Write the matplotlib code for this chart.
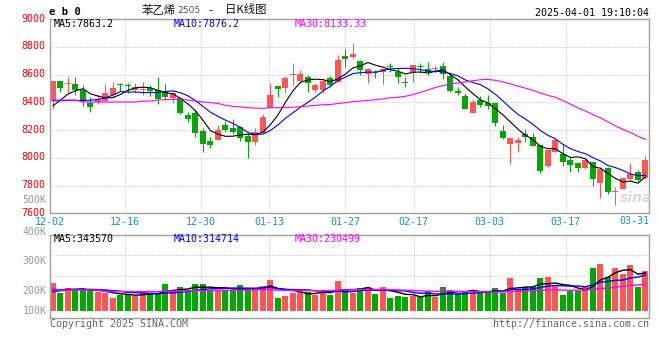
import matplotlib
matplotlib.use('Agg')
import matplotlib.pyplot as plt
import matplotlib.transforms as mtransforms
import numpy as np

# 苯乙烯2505 日K线, 2024-12-02 .. 2025-04-01
date_labels = ['12-02', '12-16', '12-30', '01-13', '01-27', '02-17', '03-03', '03-17']
date_index = [0, 10, 20, 29, 39, 48, 58, 68]
last_label = '03-31'

opens = [8409, 8553, 8531, 8531, 8488, 8397, 8402, 8409, 8452, 8526,
         8524, 8488, 8488, 8505, 8488, 8476, 8428, 8428, 8308, 8325,
         8195, 8123, 8128, 8236, 8212, 8219, 8157, 8116, 8176, 8356,
         8517, 8500, 8596, 8555, 8579, 8488, 8488, 8572, 8548, 8733,
         8723, 8697, 8603, 8610, 8615, 8656, 8615, 8543, 8615, 8656,
         8637, 8639, 8661, 8589, 8483, 8445, 8325, 8416, 8392, 8397,
         8195, 8097, 8109, 8171, 8147, 8092, 7941, 8044, 8025, 7984,
         7960, 7929, 7972, 7821, 7924, 7754, 7773, 7845, 7895, 7852]
highs = [8553, 8553, 8579, 8582, 8524, 8435, 8452, 8531, 8548, 8541,
         8536, 8541, 8543, 8524, 8584, 8531, 8488, 8428, 8332, 8344,
         8212, 8147, 8236, 8265, 8279, 8229, 8176, 8212, 8315, 8541,
         8517, 8589, 8680, 8632, 8596, 8541, 8565, 8589, 8740, 8781,
         8829, 8704, 8644, 8632, 8644, 8685, 8644, 8584, 8668, 8680,
         8690, 8668, 8692, 8613, 8512, 8469, 8421, 8445, 8452, 8397,
         8236, 8145, 8147, 8205, 8181, 8092, 8056, 8140, 8099, 8003,
         7972, 8003, 7972, 7936, 7936, 7792, 7857, 7960, 7912, 8013]
lows = [8351, 8476, 8464, 8452, 8375, 8332, 8387, 8409, 8440, 8483,
        8469, 8469, 8452, 8447, 8387, 8416, 8392, 8315, 8260, 8152,
        8044, 8073, 8128, 8188, 8169, 8123, 8001, 8092, 8176, 8356,
        8440, 8464, 8524, 8536, 8476, 8476, 8469, 8512, 8548, 8651,
        8709, 8596, 8536, 8572, 8531, 8620, 8536, 8512, 8548, 8613,
        8596, 8608, 8565, 8476, 8452, 8351, 8325, 8368, 8351, 8229,
        8135, 7955, 8044, 8116, 8085, 7888, 7931, 8032, 7939, 7900,
        7900, 7917, 7797, 7710, 7739, 7660, 7773, 7840, 7835, 7845]
closes = [8553, 8505, 8531, 8488, 8411, 8368, 8426, 8464, 8500, 8524,
          8519, 8512, 8488, 8483, 8423, 8440, 8469, 8325, 8279, 8181,
          8099, 8092, 8200, 8200, 8188, 8145, 8116, 8186, 8296, 8452,
          8495, 8572, 8598, 8603, 8536, 8524, 8555, 8524, 8704, 8709,
          8747, 8632, 8639, 8608, 8639, 8652, 8579, 8541, 8668, 8651,
          8615, 8641, 8601, 8483, 8469, 8351, 8404, 8380, 8373, 8248,
          8140, 8145, 8128, 8152, 8085, 7905, 8056, 8128, 7972, 7950,
          7929, 7984, 7845, 7917, 7756, 7756, 7852, 7881, 7840, 7984]
volumes_k = [246, 162, 204, 186, 186, 177, 171, 156, 117, 141,
             150, 132, 177, 156, 156, 237, 186, 213, 186, 237,
             237, 186, 186, 186, 186, 228, 186, 204, 222, 276,
             117, 132, 162, 171, 171, 141, 186, 141, 270, 198,
             156, 204, 216, 150, 213, 117, 132, 126, 132, 120,
             177, 120, 213, 186, 162, 177, 177, 162, 177, 204,
             162, 297, 186, 213, 213, 297, 303, 222, 141, 177,
             177, 222, 384, 420, 303, 384, 330, 411, 216, 360]

# moving-average values before enough history is on the chart
ma5_head = [8375, 8416, 8459, 8483]
ma10_head = [8411, 8411, 8413, 8413, 8413, 8415, 8420, 8433, 8452]
ma30_head = [8416, 8416, 8416, 8416, 8402, 8402, 8402, 8402, 8402, 8402,
             8402, 8402, 8409, 8409, 8416, 8419, 8421, 8421, 8416, 8409,
             8402, 8397, 8392, 8378, 8370, 8366, 8361, 8358, 8356]
vol_ma5_head = [192, 186, 192, 192]
vol_ma10_head = [171, 180, 189, 192, 192, 192, 190, 186, 180]
vol_ma30_head = [186, 186, 186, 186, 186, 186, 186, 172, 172, 172,
                 172, 172, 172, 172, 172, 175, 176, 177, 178, 179,
                 180, 181, 182, 183, 184, 185, 186, 187, 188]

RED = '#ff5555'
GREEN = '#00a800'
GRID = '#b4b4b4'
FRAME = '#a0a0a0'
W, H = 660, 360


def sma(values, n, head):
    out = list(head)
    for i in range(n - 1, len(values)):
        out.append(sum(values[i - n + 1:i + 1]) / n)
    return np.array(out, dtype=float)


def box(left, top, right, bottom):
    return [left / W, 1 - bottom / H, (right - left) / W, (bottom - top) / H]


plt.rcParams['font.family'] = ['DejaVu Sans Mono', 'Noto Sans CJK SC']
plt.rcParams['font.size'] = 7.2

fig = plt.figure(figsize=(W / 100, H / 100), dpi=100)


def px_text(x, y, s, **kw):
    kw.setdefault('va', 'center')
    fig.text(x / W, 1 - y / H, s, **kw)


x = np.arange(len(closes))
o = np.array(opens, dtype=float)
c = np.array(closes, dtype=float)
colors = np.where(c >= o, RED, GREEN)
vol = np.array(volumes_k, dtype=float) * 1000

# gridline positions drift slightly from the candle slots in the original
tick_pos = [max((7.6 * i - 4) / 7.5, -0.4) for i in date_index]

# ---- price panel
ax = fig.add_axes(box(50, 19, 649, 213.3))
ax.vlines(x, lows, highs, colors=colors, linewidth=0.75)
body = np.maximum(np.abs(c - o), 7)
ax.bar(x, body, bottom=np.minimum(o, c), width=0.8, color=colors, linewidth=0)
ax.plot(x, sma(closes, 5, ma5_head), color='black', lw=0.8)
ax.plot(x, sma(closes, 10, ma10_head), color='#0000ff', lw=0.8)
ax.plot(x, sma(closes, 30, ma30_head), color='#ff00ff', lw=0.8)
ax.set_xlim(-0.4, 79.47)
ax.set_ylim(7600, 9000)
ax.set_yticks(range(7600, 9001, 200))
ax.tick_params(axis='y', length=0, pad=3, labelcolor='#ff0000', labelsize=7.2)
lift = mtransforms.ScaledTranslation(0, 1.5 / 100, fig.dpi_scale_trans)
for lab in ax.get_yticklabels():
    lab.set_transform(lab.get_transform() + lift)
ax.set_xticks(tick_pos)
ax.set_xticklabels(date_labels)
ax.tick_params(axis='x', length=0, pad=2.4, labelcolor='#1a8ad6', labelsize=7.2)
ax.grid(True, color=GRID, linestyle=(0, (1, 2)), linewidth=0.72)
ax.set_axisbelow(True)
for s in ax.spines.values():
    s.set_color(FRAME)
    s.set_linewidth(1.0)

# ---- volume panel
axv = fig.add_axes(box(50, 234.5, 649, 317.7))
axv.bar(x, vol, width=0.8, color=colors, linewidth=0)
axv.plot(x, sma(vol, 5, np.array(vol_ma5_head) * 1000), color='black', lw=1.0)
axv.plot(x, sma(vol, 10, np.array(vol_ma10_head) * 1000), color='#0000ff', lw=1.0)
axv.plot(x, sma(vol, 30, np.array(vol_ma30_head) * 1000), color='#ff00ff', lw=1.0)
axv.set_xlim(-0.4, 79.47)
vlo, vhi = -63000, 686000
axv.set_ylim(vlo, vhi)
axv.set_xticks(tick_pos)
axv.set_xticklabels([])
axv.set_yticks([vlo + f * (vhi - vlo) for f in (0.25, 0.5, 0.75)])
axv.set_yticklabels([])
axv.tick_params(length=0)
axv.grid(True, color=GRID, linestyle=(0, (1, 2)), linewidth=0.72)
axv.set_axisbelow(True)
for s in axv.spines.values():
    s.set_color(FRAME)
    s.set_linewidth(1.0)

# ---- texts
px_text(49, 12, 'e b 0', fontweight='bold', fontsize=7.6, color='black')
px_text(142, 10, '苯乙烯', family='Noto Sans CJK SC', fontsize=8.2, color='#111')
px_text(177, 10.5, '2505', family='DejaVu Sans', fontsize=6.6, color='#555')
px_text(210.5, 10, '-', family='DejaVu Sans', fontsize=8, color='#111', ha='center')
px_text(225, 10, '日K线图', family='Noto Sans CJK SC', fontsize=8.2, color='#111')
px_text(649, 12.5, '2025-04-01 19:10:04', ha='right', color='black')

px_text(54, 24, 'MA5:7863.2', color='black')
px_text(174, 24, 'MA10:7876.2', color='#0000ff')
px_text(295, 24, 'MA30:8133.33', color='#ff00ff')
px_text(54, 238.5, 'MA5:343570', color='black')
px_text(174, 238.5, 'MA10:314714', color='#0000ff')
px_text(295, 238.5, 'MA30:230499', color='#ff00ff')

px_text(649, 220.5, last_label, ha='right', color='#1a8ad6')
for label, y in [('500K', 200), ('400K', 231.5), ('300K', 260.7), ('200K', 290.7), ('100K', 310.7)]:
    px_text(46.5, y, label, ha='right', color='#999999')

px_text(50, 323.7, 'Copyright 2025 SINA.COM', color='#666666')
px_text(649, 323.7, 'http://finance.sina.com.cn', ha='right', color='#666666')
px_text(636, 198, 'sina', family='DejaVu Sans', fontsize=10, fontstyle='italic',
        fontweight='bold', color='#d0d0d0', ha='center', alpha=0.8)

fig.savefig('out.png', dpi=100)
